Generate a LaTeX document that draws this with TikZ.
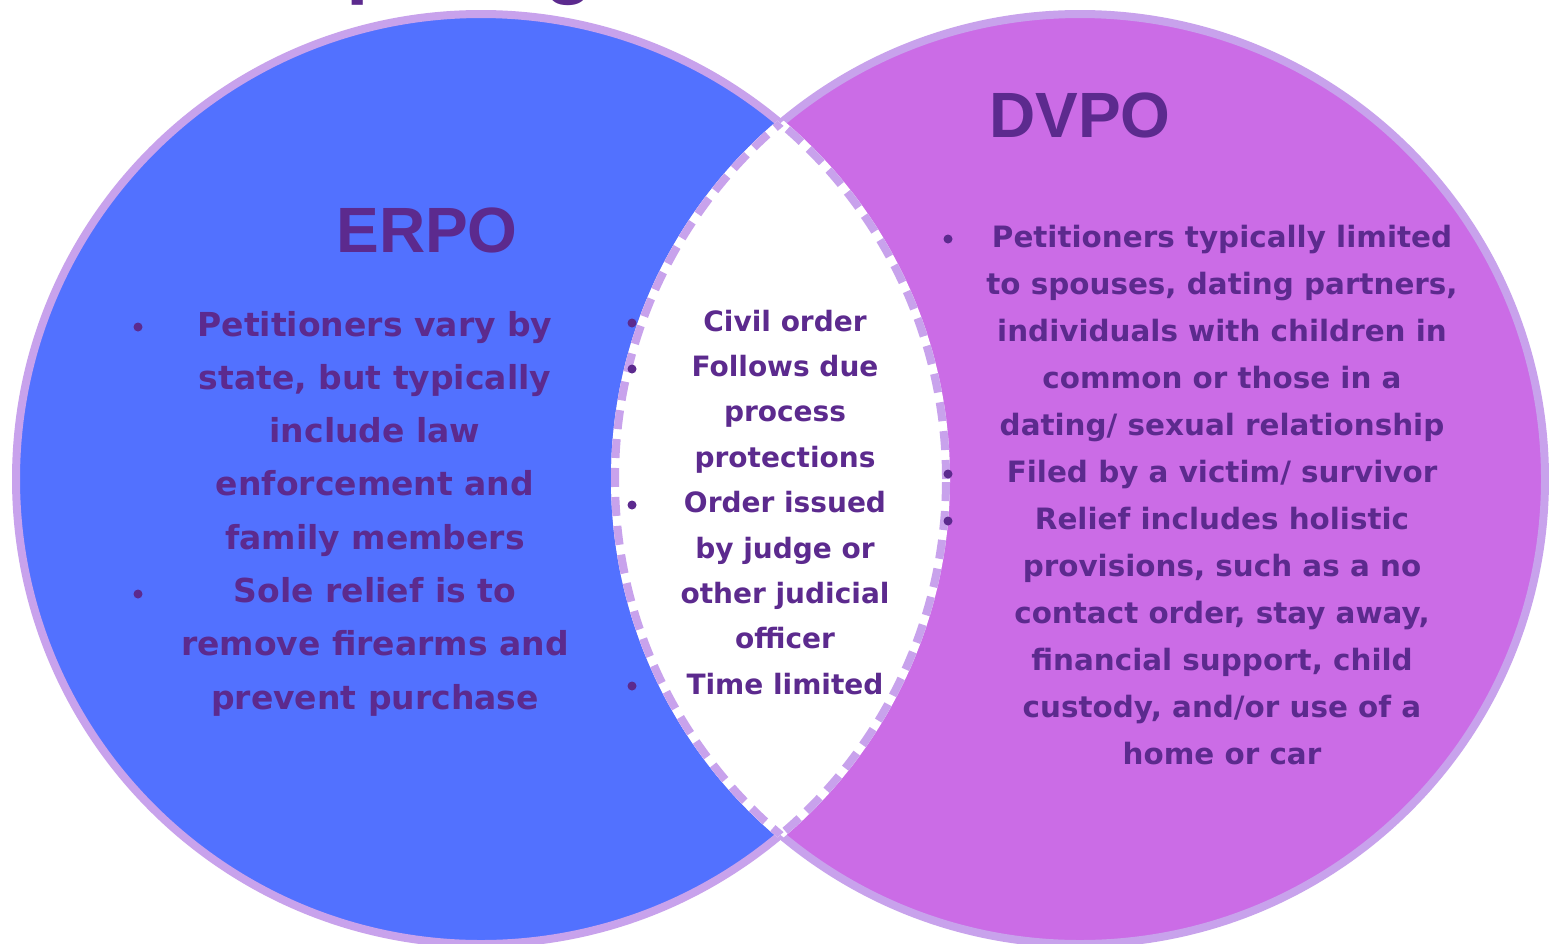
\documentclass[tikz,border=0pt]{standalone}
\usepackage{fontspec}
\newfontfamily\bodyfont{DejaVu Sans}
\newfontfamily\headfont{Liberation Sans}
\definecolor{ercircle}{HTML}{5271FF}
\definecolor{dvcircle}{HTML}{CB6CE6}
\definecolor{rim}{HTML}{C8A2EC}
\definecolor{ink}{HTML}{5C2A8E}

\begin{document}
\begin{tikzpicture}[x=1pt,y=-1pt,
  rimline/.style={draw=rim,line width=8pt},
  lensdash/.style={draw=rim,line width=8pt,dash pattern=on 19pt off 10pt},
  heading/.style={text=ink,font=\headfont\bfseries\fontsize{64}{64}\selectfont,anchor=base,inner sep=0pt},
  toptitle/.style={text=ink,font=\headfont\bfseries\fontsize{81}{81}\selectfont,anchor=base west,inner sep=0pt},
  ltext/.style={text=ink,font=\bodyfont\bfseries\fontsize{33}{33}\selectfont,anchor=base,inner sep=0pt},
  mtext/.style={text=ink,font=\bodyfont\bfseries\fontsize{28}{28}\selectfont,anchor=base,inner sep=0pt},
  rtext/.style={text=ink,font=\bodyfont\bfseries\fontsize{29.4}{29.4}\selectfont,anchor=base,inner sep=0pt},
  bulletdot/.style={circle,fill=ink,inner sep=0pt,minimum size=9pt},
]
% page
\clip (0,0) rectangle (1549,943);
\fill[white] (0,0) rectangle (1549,943);

% heading line running off the top edge
\node[toptitle] (title) at (166,-12) {Comparing};

% the two sets
\coordinate (cl) at (481,479);
\coordinate (cr) at (1080,479);
\path[fill=ercircle,rimline] (cl) circle[radius=465pt];
\path[fill=dvcircle,rimline] (cr) circle[radius=465pt];

% overlap: white lens with dashed rim
\begin{scope}
  \clip (cl) circle[radius=465pt];
  \fill[white] (cr) circle[radius=465pt];
  \draw[white,line width=8pt] (cr) circle[radius=465pt];
\end{scope}
\begin{scope}
  \clip (cr) circle[radius=465pt];
  \draw[white,line width=8pt] (cl) circle[radius=465pt];
\end{scope}
\begin{scope}
  \clip (cr) circle[radius=465pt];
  \path[lensdash] (cl) circle[radius=465pt];
\end{scope}
\begin{scope}
  \clip (cl) circle[radius=465pt];
  \path[lensdash] (cr) circle[radius=465pt];
\end{scope}

% headings
\node[heading] (erpo) at (427,252) {ERPO};
\node[heading] (dvpo) at (1080,137) {DVPO};

% ERPO list
\foreach \t [count=\i] in {Petitioners vary by,{state, but typically},include law,
  enforcement and,family members,Sole relief is to,remove firearms and,prevent purchase}
  \node[ltext] (el\i) at (375,{336+(\i-1)*53.3}) {\t};
\node[bulletdot] (eb1) at (138,327) {};
\node[bulletdot] (eb2) at (138,594) {};

% shared list
\foreach \t [count=\i] in {Civil order,Follows due,process,protections,Order issued,
  by judge or,other judicial,officer,Time limited}
  \node[mtext] (ml\i) at (785,{331+(\i-1)*45.4}) {\t};
\node[bulletdot] (mb1) at (632,323) {};
\node[bulletdot] (mb2) at (632,369) {};
\node[bulletdot] (mb3) at (632,505) {};
\node[bulletdot] (mb4) at (632,686) {};

% DVPO list
\foreach \t [count=\i] in {Petitioners typically limited,{to spouses, dating partners,},
  individuals with children in,common or those in a,dating/ sexual relationship,
  Filed by a victim/ survivor,Relief includes holistic,{provisions, such as a no},
  {contact order, stay away,},{financial support, child},{custody, and/or use of a},home or car}
  \node[rtext] (dl\i) at (1222,{247+(\i-1)*47}) {\t};
\node[bulletdot] (db1) at (948,239) {};
\node[bulletdot] (db2) at (948,474) {};
\node[bulletdot] (db3) at (948,521) {};
\end{tikzpicture}
\end{document}
